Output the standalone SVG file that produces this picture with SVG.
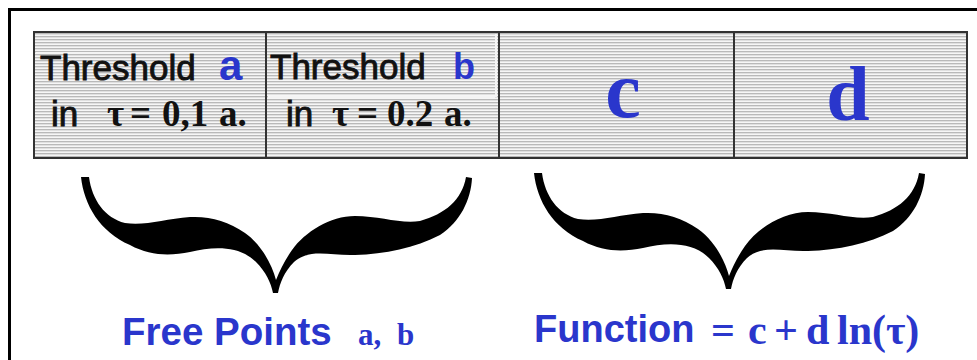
<svg xmlns="http://www.w3.org/2000/svg" xmlns:xlink="http://www.w3.org/1999/xlink" width="977" height="360" viewBox="0 0 977 360">
<style>
.sans{font-family:"Liberation Sans",Arial,sans-serif;}
.serif{font-family:"Liberation Serif","Times New Roman",serif;font-weight:bold;}
.blk{fill:#111;}
.heavy{stroke:#111;stroke-width:0.9;}
.blue{fill:#2a36cc;}
.cell{fill:url(#stripes);stroke:#333;stroke-width:2;}
.faint{stroke:#f4f4f4;stroke-width:2;fill:none;}
.brace{fill:#000;}
</style>
<defs>
<pattern id="stripes" patternUnits="userSpaceOnUse" width="6" height="3">
<rect width="6" height="3" fill="#e0e0e0"/>
<rect width="6" height="1" y="0" fill="#b9b9b9"/>
<rect width="6" height="1" y="2" fill="#f6f6f6"/>
</pattern>
<path id="bracePath" d="M81,177 C84,205 100,232 130,245 C150,256 170,256 190,252 C215,246 240,246 256,262 C266,272 271,283 273,293 L278,293 C280,283 284,272 294,262 C310,248 330,256 355,255 C385,254 415,248 440,235 C460,222 471,200 472,178 L466,177 C462,200 445,214 420,221 C400,224 380,216 355,216 C330,216 305,232 292,250 C285,260 280,270 276,280 C272,265 262,245 245,233 C228,221 210,216 190,217 C165,219 145,226 125,223 C105,218 92,200 89,177 Z"/>
</defs>
<rect width="977" height="360" fill="#fff"/>
<path d="M9.5,360 V9.5 H977" fill="none" stroke="#000" stroke-width="3"/>

<g id="cell-a">
<rect class="cell" x="34" y="32" width="232" height="126"/>
<line class="faint" x1="36" y1="53" x2="264" y2="53"/>
<text class="sans blk heavy" x="40" y="80" font-size="35">Threshold</text>
<text class="sans blue" x="219" y="80" font-size="42" font-weight="bold">a</text>
<text class="sans blk heavy" x="51" y="126" font-size="35">in</text>
<text class="serif blk" y="126" font-size="37"><tspan x="107">τ</tspan><tspan x="130">=</tspan><tspan x="162">0,1</tspan><tspan x="219">a.</tspan></text>
</g>

<g id="cell-b">
<rect class="cell" x="266" y="32" width="233" height="126"/>
<line class="faint" x1="268" y1="97" x2="495" y2="97"/>
<line class="faint" x1="496" y1="34" x2="496" y2="97"/>
<text class="sans blk heavy" x="270" y="79" font-size="35">Threshold</text>
<text class="sans blue" x="453" y="79" font-size="36" font-weight="bold">b</text>
<text class="sans blk heavy" x="286" y="126" font-size="35">in</text>
<text class="serif blk" y="126" font-size="37"><tspan x="332">τ</tspan><tspan x="357">=</tspan><tspan x="387">0.2</tspan><tspan x="444">a.</tspan></text>
</g>

<g id="cell-c">
<rect class="cell" x="499" y="32" width="235" height="126"/>
<text class="serif blue" x="623" y="117" font-size="80" text-anchor="middle">c</text>
</g>

<g id="cell-d">
<rect class="cell" x="734" y="32" width="233" height="126"/>
<text class="serif blue" x="848" y="120" font-size="78" text-anchor="middle">d</text>
</g>

<g id="connectors">
<use id="brace-left" class="brace" xlink:href="#bracePath" href="#bracePath"/>
<use id="brace-right" class="brace" xlink:href="#bracePath" href="#bracePath" transform="translate(453,-4)"/>
</g>

<g id="label-free-points">
<text class="sans blue" x="122" y="345" font-size="38.5" font-weight="bold">Free Points</text>
<text class="serif blue" y="345" font-size="31"><tspan x="358">a,</tspan><tspan x="397">b</tspan></text>
</g>

<g id="label-function">
<text class="sans blue" x="534" y="342" font-size="38" font-weight="bold">Function</text>
<text class="serif blue" y="344" font-size="42"><tspan x="711">=</tspan><tspan x="748">c</tspan><tspan x="774">+</tspan><tspan x="806">d</tspan><tspan x="837">ln(τ)</tspan></text>
</g>
</svg>
